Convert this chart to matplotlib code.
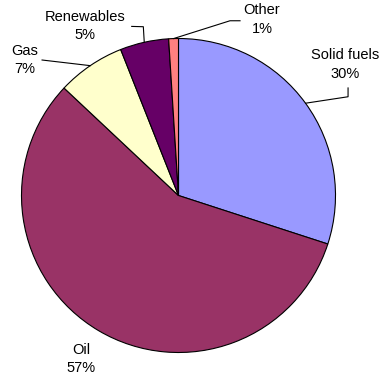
import numpy as np
import matplotlib
matplotlib.use("Agg")
from matplotlib import pyplot as plt

# energy mix shares (%), clockwise from 12 o'clock
labels = ["Solid fuels", "Oil", "Gas", "Renewables", "Other"]
shares = [30, 57, 7, 5, 1]
colors = ["#9999FF", "#993366", "#FFFFCC", "#660066", "#FF8080"]

# label block centres, in pie radius units
label_pos = [(1.060, 0.834), (-0.621, -1.041), (-0.981, 0.863),
             (-0.596, 1.080), (0.532, 1.121)]
# leader bends after the point on the rim (None = no leader)
leader_bends = [[(1.080, 0.629), (1.080, 0.685)],
                None,
                [(-0.869, 0.863)],
                [(-0.224, 1.075), (-0.298, 1.077)],
                [(0.328, 1.113), (0.392, 1.113)]]

plt.rcParams['font.family'] = ['Liberation Sans', 'DejaVu Sans']

W, H = 388, 381
fig = plt.figure(figsize=(W / 100, H / 100), dpi=100)
cx, cy, R = 178.5, 195.5, 157
ax = fig.add_axes([(cx - R) / W, (H - cy - R) / H, 2 * R / W, 2 * R / H])

wedges, _ = ax.pie(shares, colors=colors, startangle=90, counterclock=False,
                   radius=1, wedgeprops=dict(edgecolor="black", linewidth=0.8))
ax.set_xlim(-1, 1)
ax.set_ylim(-1, 1)
ax.axis("off")

for w, lab, val, pos, bends in zip(wedges, labels, shares, label_pos, leader_bends):
    ax.text(pos[0], pos[1], f"{lab}\n{val}%", ha="center", va="center",
            fontsize=10.5, linespacing=1.4, clip_on=False)
    if bends:
        mid = np.deg2rad((w.theta1 + w.theta2) / 2)
        pts = [(np.cos(mid), np.sin(mid))] + bends
        xs, ys = zip(*pts)
        ax.plot(xs, ys, color="black", linewidth=0.8, clip_on=False)

fig.savefig("out.png", dpi=100)
